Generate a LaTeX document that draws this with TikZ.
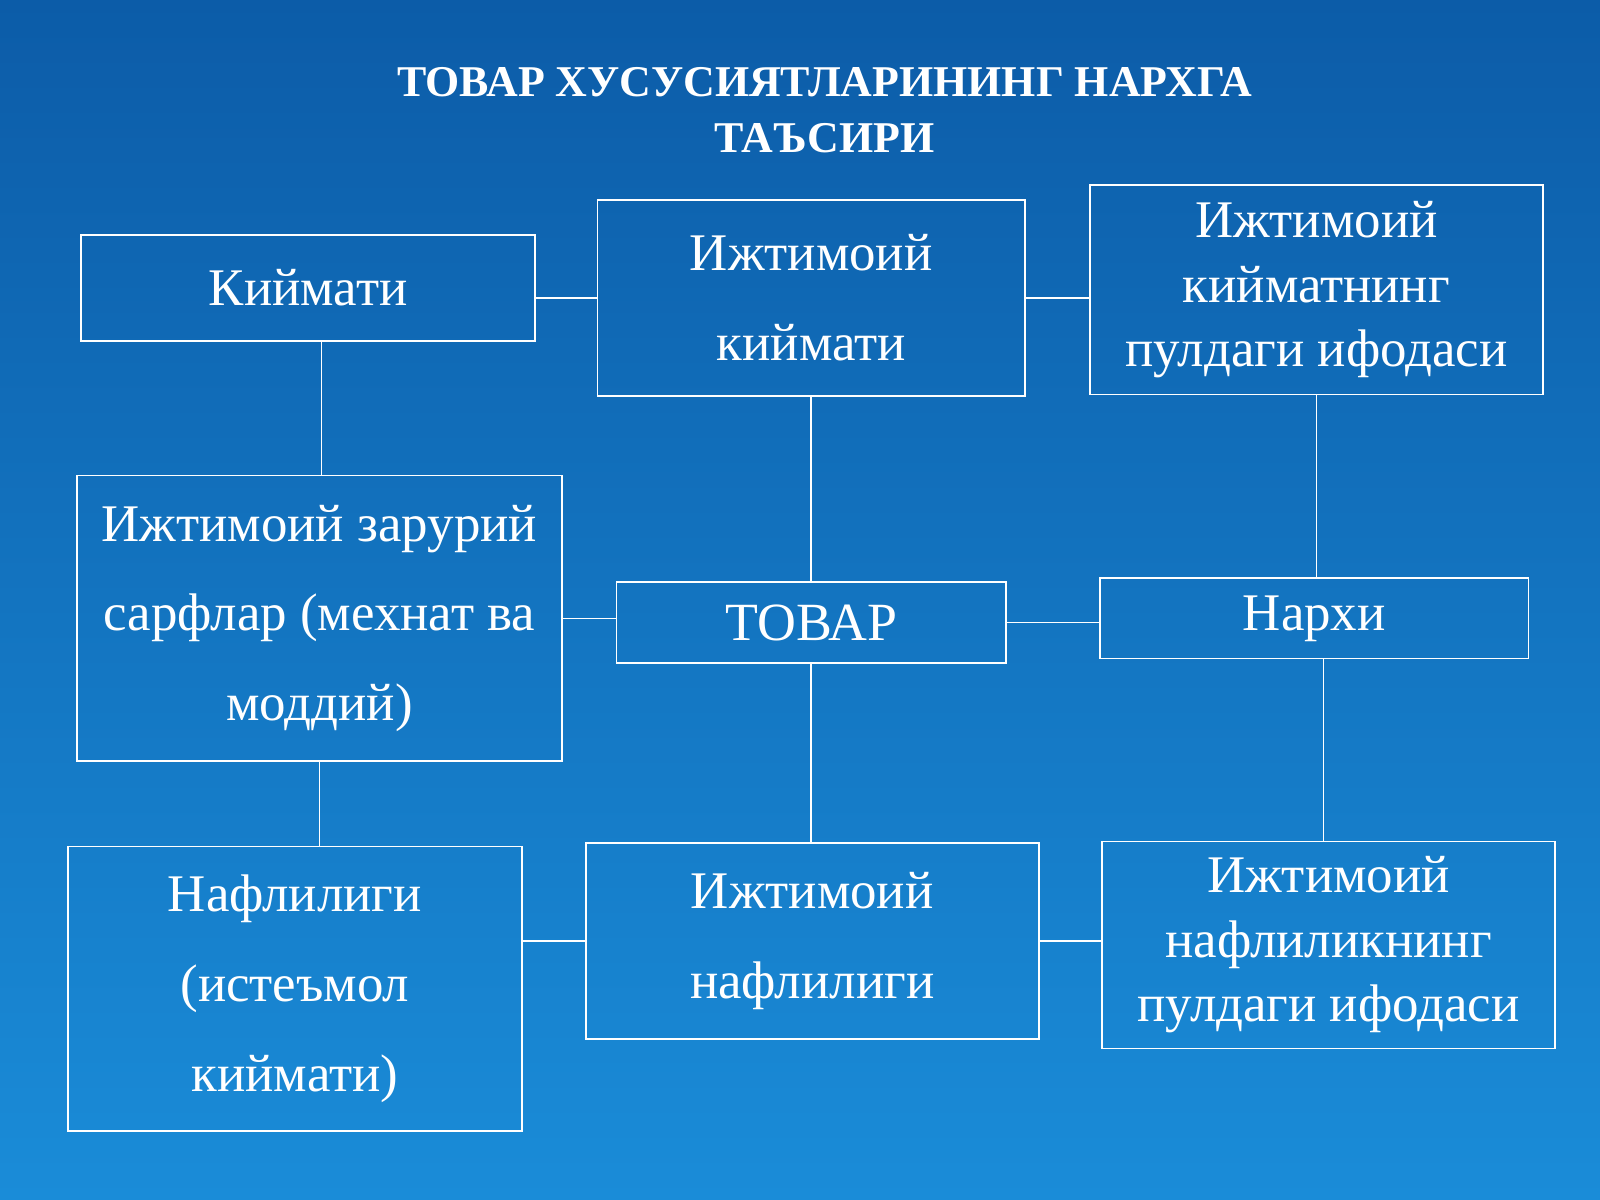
\documentclass[tikz,border=0pt]{standalone}
\usepackage{fontspec}
\setmainfont{Liberation Serif}
\usetikzlibrary{positioning}

\tikzset{
    box/.style={draw=white, line width=0.9pt, text=white, align=center,
        inner sep=0pt, font=\fontsize{29.5}{50}\selectfont},
    tight/.style={font=\fontsize{29.5}{36}\selectfont},
    link/.style={draw=white, line width=0.9pt}
}

\begin{document}
\begin{tikzpicture}[x=0.02cm, y=-0.02cm]
        \shade[top color={rgb,255:red,12;green,92;blue,168}, bottom color={rgb,255:red,26;green,140;blue,216}]
            (0,0) rectangle (1568,1176);
        \useasboundingbox (0,0) rectangle (1568,1176);

        \node[text=white, align=center, font=\bfseries\fontsize{24.5}{31}\selectfont] (title) at (808,108)
            {ТОВАР ХУСУСИЯТЛАРИНИНГ НАРХГА\\ТАЪСИРИ};

        \node[box, minimum width=8.9cm, minimum height=2.08cm] (kiym) at (302,282) {Киймати};
        \node[box, minimum width=8.38cm, minimum height=3.84cm] (ijkiym) at (795,292) {Ижтимоий\\киймати};
        \node[box, tight, minimum width=8.88cm, minimum height=4.1cm] (pul1) at (1290,284) {Ижтимоий\\кийматнинг\\пулдаги ифодаси};
        \node[box, minimum width=9.5cm, minimum height=5.6cm] (sarf) at (313,606) {Ижтимоий зарурий\\сарфлар (мехнат ва\\моддий)};
        \node[box, minimum width=7.64cm, minimum height=1.58cm, font=\fontsize{30}{36}\selectfont] (tovar) at (795,610) {ТОВАР};
        \node[box, minimum width=8.4cm, minimum height=1.58cm] (narx) at (1288,606) {Нархи};
        \node[box, minimum width=8.9cm, minimum height=5.58cm] (naf) at (289,969) {Нафлилиги\\(истеъмол\\киймати)};
        \node[box, minimum width=8.88cm, minimum height=3.84cm] (ijnaf) at (796,922) {Ижтимоий\\нафлилиги};
        \node[box, tight, minimum width=8.88cm, minimum height=4.06cm] (pul2) at (1302,926) {Ижтимоий\\нафлиликнинг\\пулдаги ифодаси};

        % horizontal links
        \draw[link] (ijkiym.west -| kiym.east) -- (ijkiym.west);
        \draw[link] (ijkiym.east) -- (ijkiym.east -| pul1.west);
        \draw[link] (sarf.east) -- (sarf.east -| tovar.west);
        \draw[link] (tovar.east) -- (tovar.east -| narx.west);
        \draw[link] (ijnaf.west -| naf.east) -- (ijnaf.west);
        \draw[link] (ijnaf.east) -- (ijnaf.east -| pul2.west);

        % vertical links
        \draw[link] ([xshift=0.26cm]kiym.south) -- ([xshift=0.26cm]kiym.south |- sarf.north);
        \draw[link] (sarf.south) -- (sarf.south |- naf.north);
        \draw[link] (ijkiym.south) -- (ijkiym.south |- tovar.north);
        \draw[link] (tovar.south) -- (tovar.south |- ijnaf.north);
        \draw[link] (pul1.south) -- (pul1.south |- narx.north);
        \draw[link] ([xshift=0.18cm]narx.south) -- ([xshift=0.18cm]narx.south |- pul2.north);
    \end{tikzpicture}
\end{document}
